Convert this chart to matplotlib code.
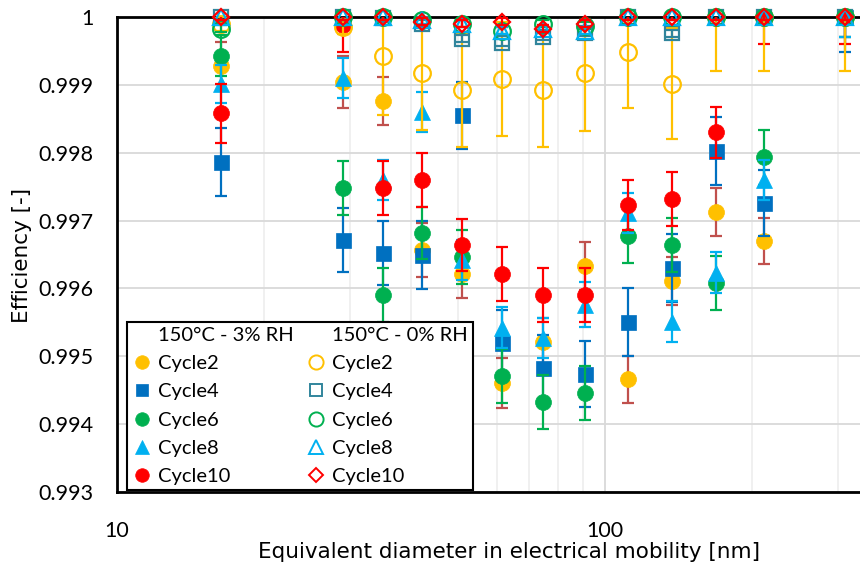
import matplotlib
matplotlib.use('Agg')
import matplotlib.pyplot as plt
from matplotlib.lines import Line2D
from matplotlib.ticker import MultipleLocator, FuncFormatter, LogLocator, NullFormatter

plt.rcParams['font.family'] = ['Lato', 'DejaVu Sans']
FS = 14.5
FS_TICK = 15.5
LABEL_FONT = ['DejaVu Sans']
FS_LABEL = 15.5

# ---------------- data ----------------
diameter = [16.3, 29.0, 35.1, 42.2, 50.9, 61.5, 74.6, 91.0, 111.4, 137.2, 168.8, 211.7, 310.4]

# 150°C - 3% RH (filled markers)
c2_rh3 = [0.99928, 0.99904, 0.99876, 0.99657, 0.99621, 0.99461, 0.99521, 0.99633, 0.99466, 0.99611, 0.99713, 0.99670, 1.0]
c2_rh3_err = [0.00035, 0.00038, 0.00035, 0.00040, 0.00035, 0.00037, 0.00035, 0.00035, 0.00035, 0.00035, 0.00035, 0.00034, 0.00030]
c4_rh3 = [0.99786, 0.99671, 0.99652, 0.99649, 0.99855, 0.99520, 0.99483, 0.99474, 0.99551, 0.99630, 0.99802, 0.99726, 1.0]
c4_rh3_err = [0.00050, 0.00047, 0.00047, 0.00050, 0.00049, 0.00048, 0.00048, 0.00049, 0.00050, 0.00050, 0.00050, 0.00048, 0.00052]
c6_rh3 = [0.99943, 0.99748, 0.99590, 0.99682, 0.99646, 0.99471, 0.99433, 0.99446, 0.99677, 0.99664, 0.99608, 0.99793, 1.0]
c6_rh3_err = [0.00030, 0.00040, 0.00040, 0.00038, 0.00040, 0.00040, 0.00040, 0.00040, 0.00040, 0.00040, 0.00040, 0.00040, 0.00030]
c8_rh3 = [0.99902, 0.99910, 0.99760, 0.99860, 0.99642, 0.99542, 0.99527, 0.99576, 0.99711, 0.99551, 0.99623, 0.99760, 1.0]
c8_rh3_err = [0.00028, 0.00030, 0.00030, 0.00030, 0.00030, 0.00030, 0.00030, 0.00033, 0.00030, 0.00030, 0.00030, 0.00030, 0.00030]
c10_rh3 = [0.99858, 0.99988, 0.99748, 0.99760, 0.99664, 0.99621, 0.99590, 0.99590, 0.99723, 0.99732, 0.99830, 1.0, 1.0]
c10_rh3_err = [0.00043, 0.00040, 0.00040, 0.00040, 0.00038, 0.00040, 0.00040, 0.00040, 0.00037, 0.00040, 0.00038, 0.00040, 0.00040]

# 150°C - 0% RH (open markers)
c2_rh0 = [0.99990, 0.99985, 0.99943, 0.99917, 0.99893, 0.99908, 0.99892, 0.99917, 0.99948, 0.99902, 1.0, 1.0, 1.0]
c2_rh0_err = [0.00010, 0.00010, 0.00088, 0.00084, 0.00084, 0.00084, 0.00084, 0.00085, 0.00082, 0.00082, 0.00080, 0.00080, 0.00080]
c4_rh0 = [1.0, 1.0, 0.99998, 0.99990, 0.99968, 0.99962, 0.99971, 0.99977, 1.0, 0.99976, 1.0, 1.0, 1.0]
c6_rh0 = [0.99983, 1.0, 1.0, 0.99995, 0.99990, 0.99980, 0.99990, 0.99987, 1.0, 1.0, 1.0, 1.0, 1.0]
c8_rh0 = [1.0, 1.0, 1.0, 0.99995, 0.99990, 0.99980, 0.99983, 0.99980, 1.0, 1.0, 1.0, 1.0, 1.0]
c10_rh0 = [1.0, 1.0, 1.0, 0.99993, 0.99990, 0.99993, 0.99983, 0.99990, 1.0, 1.0, 1.0, 1.0, 1.0]
small_err = [0.00005] * len(diameter)

header_rh3 = '150°C - 3% RH'
header_rh0 = '150°C - 0% RH'
labels = ['Cycle2', 'Cycle4', 'Cycle6', 'Cycle8', 'Cycle10']
x_label = 'Equivalent diameter in electrical mobility [nm]'
y_label = 'Efficiency [-]'

# ---------------- styles ----------------
YEL, BLU, GRN, LBL, RED = '#FFC000', '#0070C0', '#00B050', '#00B0F0', '#FF0000'
TEAL, BRN = '#31859C', '#C0504D'

filled = [
    (c2_rh3, c2_rh3_err, 'o', YEL, BRN, 11.5),
    (c4_rh3, c4_rh3_err, 's', BLU, BLU, 10.8),
    (c6_rh3, c6_rh3_err, 'o', GRN, GRN, 11.5),
    (c8_rh3, c8_rh3_err, '^', LBL, LBL, 12.0),
    (c10_rh3, c10_rh3_err, 'o', RED, RED, 11.5),
]
opened = [
    (c2_rh0, c2_rh0_err, 'o', YEL, YEL, 12.0),
    (c4_rh0, small_err, 's', TEAL, TEAL, 10.5),
    (c6_rh0, small_err, 'o', GRN, GRN, 12.0),
    (c8_rh0, small_err, '^', LBL, LBL, 12.0),
    (c10_rh0, small_err, 'D', RED, RED, 8.6),
]

fig = plt.figure(figsize=(8.6, 5.71), dpi=100)
ax = fig.add_axes([117 / 860, 1 - 492 / 571, 743 / 860, 475 / 571])
ax.set_xscale('log')
ax.set_xlim(10, 10 ** (1 + 743 / 488))
ax.set_ylim(0.993, 1.0)

z = 3
handles_f, handles_o = [], []
for (y, e, m, c, ec, ms) in filled:
    ax.errorbar(diameter, y, yerr=e, fmt='none', ecolor=ec, elinewidth=1.6,
                capsize=4.6, capthick=1.6, zorder=z)
    ax.plot(diameter, y, ls='none', marker=m, ms=ms, mfc=c, mec=c, mew=0.5,
            clip_on=False, zorder=z + 0.5)
    handles_f.append(Line2D([], [], ls='none', marker=m, ms=ms * 0.85, mfc=c, mec=c, mew=0.5))
    z += 1
for (y, e, m, c, ec, ms) in opened:
    ax.errorbar(diameter, y, yerr=e, fmt='none', ecolor=ec, elinewidth=1.6,
                capsize=4.6, capthick=1.6, zorder=z)
    ax.plot(diameter, y, ls='none', marker=m, ms=ms, mfc='none', mec=c, mew=1.6,
            clip_on=False, zorder=z + 0.5)
    handles_o.append(Line2D([], [], ls='none', marker=m, ms=ms * 0.85, mfc='none', mec=c, mew=1.4))
    z += 1

# ---------------- axes ----------------
ax.yaxis.set_major_locator(MultipleLocator(0.001))
ax.yaxis.set_major_formatter(FuncFormatter(lambda v, _: '1' if abs(v - 1) < 1e-9 else f'{v:.3f}'))
ax.xaxis.set_major_locator(LogLocator(base=10, numticks=10))
ax.xaxis.set_minor_locator(LogLocator(base=10, subs=range(2, 10), numticks=20))
ax.xaxis.set_major_formatter(FuncFormatter(lambda v, _: f'{v:g}'))
ax.xaxis.set_minor_formatter(NullFormatter())
ax.set_axisbelow(True)
ax.grid(axis='y', which='major', color='#D9D9D9', lw=1.3)
ax.grid(axis='x', which='major', color='#D9D9D9', lw=1.3)
ax.grid(axis='x', which='minor', color='#EFEFEF', lw=1.3)
ax.tick_params(axis='both', which='both', length=0, labelsize=FS_TICK)
ax.tick_params(axis='x', pad=21)
ax.tick_params(axis='y', pad=17)
for s in ['left', 'bottom', 'top']:
    ax.spines[s].set_color('black')
    ax.spines[s].set_linewidth(2)
    ax.spines[s].set_zorder(2.5)
ax.spines['right'].set_visible(False)

ax.set_xlabel(x_label, fontsize=FS_LABEL, family=LABEL_FONT)
ax.xaxis.label.set_va('center')
ax.xaxis.set_label_coords(0.528, -(552 - 492) / 475)
ax.set_ylabel(y_label, fontsize=FS_LABEL, family=LABEL_FONT)
ax.yaxis.label.set_va('center')
ax.yaxis.set_label_coords((22 - 117) / 743, 0.497)

# ---------------- legend ----------------
blank = Line2D([], [], ls='none', marker='')
handles = [blank] + handles_f + [blank] + handles_o
leg_labels = [header_rh3] + labels + [header_rh0] + labels
leg = ax.legend(handles, leg_labels, ncol=2, loc='lower left',
                bbox_to_anchor=(127 / 860, 1 - 490 / 571), bbox_transform=fig.transFigure,
                borderaxespad=0, fontsize=FS, frameon=True, fancybox=False,
                edgecolor='black', framealpha=1, borderpad=0.25, handlelength=1.0,
                handletextpad=0.3, columnspacing=0.6, labelspacing=0.55)
leg.get_frame().set_linewidth(1.5)
leg.set_zorder(50)

fig.savefig('out.png', dpi=100)
